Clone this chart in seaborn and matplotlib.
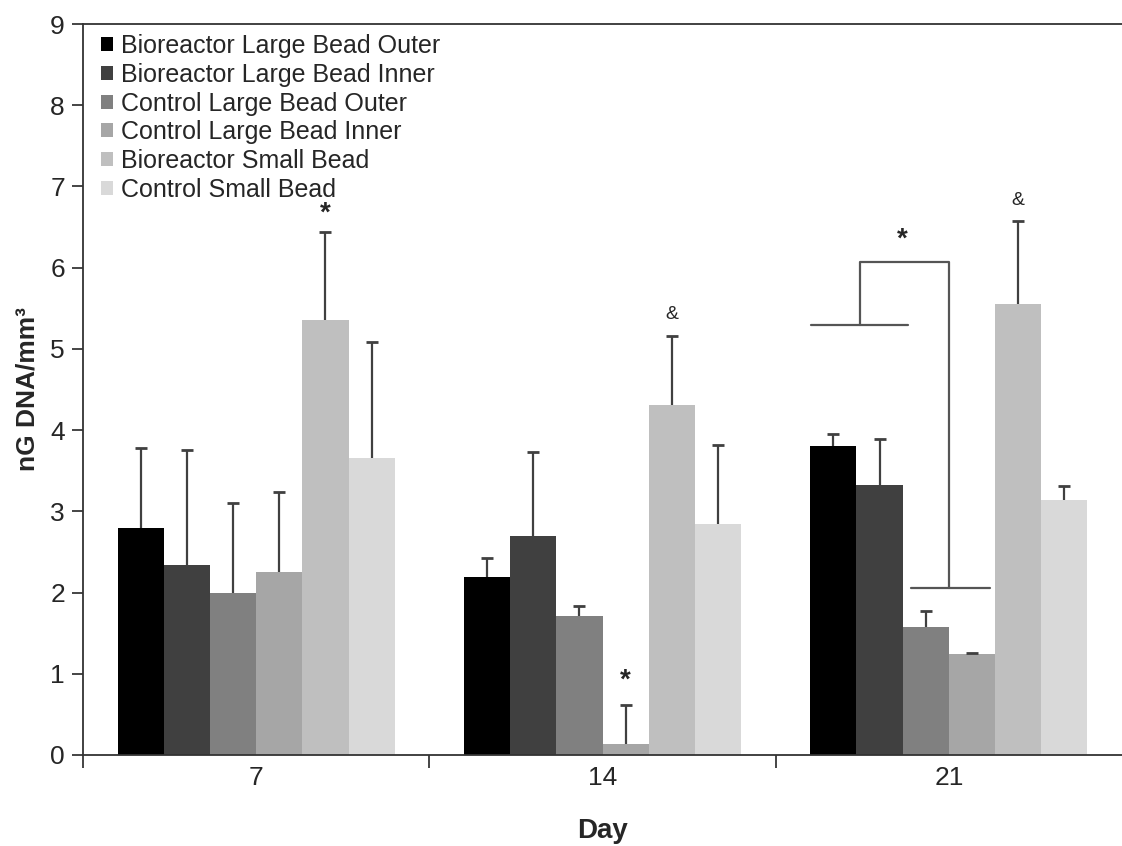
import numpy as np
import pandas as pd
import matplotlib
matplotlib.use("Agg")
import matplotlib.pyplot as plt
from matplotlib.patches import Patch
import seaborn as sns

days = ["7", "14", "21"]
groups = ["Bioreactor Large Bead Outer", "Bioreactor Large Bead Inner",
          "Control Large Bead Outer", "Control Large Bead Inner",
          "Bioreactor Small Bead", "Control Small Bead"]
colors = ["#000000", "#404040", "#808080", "#a6a6a6", "#bfbfbf", "#d9d9d9"]

# mean nG DNA/mm3, one list per group (days 7, 14, 21)
means = {
    "Bioreactor Large Bead Outer": [2.79, 2.19, 3.81],
    "Bioreactor Large Bead Inner": [2.34, 2.69, 3.32],
    "Control Large Bead Outer": [2.00, 1.71, 1.58],
    "Control Large Bead Inner": [2.25, 0.14, 1.24],
    "Bioreactor Small Bead": [5.36, 4.31, 5.55],
    "Control Small Bead": [3.66, 2.84, 3.14],
}
# standard deviations (upper bars only)
sds = {
    "Bioreactor Large Bead Outer": [0.99, 0.23, 0.14],
    "Bioreactor Large Bead Inner": [1.42, 1.04, 0.57],
    "Control Large Bead Outer": [1.10, 0.13, 0.19],
    "Control Large Bead Inner": [0.99, 0.47, 0.02],
    "Bioreactor Small Bead": [1.08, 0.85, 1.02],
    "Control Small Bead": [1.43, 0.98, 0.17],
}

rows = []
for g in groups:
    for d, m, s in zip(days, means[g], sds[g]):
        rows.append({"Day": d, "Group": g, "DNA": m, "SD": s})
df = pd.DataFrame(rows)

sns.set_style("ticks")
plt.rcParams["font.family"] = ["Liberation Sans", "DejaVu Sans"]

fig = plt.figure(figsize=(11.22, 8.46), dpi=100)
ax = fig.add_axes([0.074, 0.1076, 0.926, 0.864])

sns.barplot(data=df, x="Day", y="DNA", hue="Group", order=days,
            hue_order=groups, palette=colors, errorbar=None, width=0.8,
            saturation=1, linewidth=0, legend=False, ax=ax)

# upper error bars from the bar positions (lower cap hidden)
for cont, g in zip(ax.containers, groups):
    xs = [p.get_x() + p.get_width() / 2 for p in cont.patches]
    ys = [p.get_height() for p in cont.patches]
    err = sds[g]
    eb = ax.errorbar(xs, ys, yerr=[np.zeros(len(err)), err], fmt="none",
                     ecolor="#404040", elinewidth=1.6, capsize=4, capthick=2)
    eb[1][0].set_visible(False)

ax.set_ylim(0, 9)
ax.set_xlim(-0.5, 2.5)
ax.set_yticks(range(10))
ax.tick_params(axis="y", labelsize=19, length=8, width=1.2, direction="out", pad=5)
ax.tick_params(axis="x", which="major", length=0, labelsize=19, pad=8)
ax.set_xticks([-0.5, 0.5, 1.5], minor=True)
ax.tick_params(axis="x", which="minor", length=9, width=1.2, direction="out")
for s in ["left", "bottom", "top"]:
    ax.spines[s].set_linewidth(1.3)
    ax.spines[s].set_color("#333333")
ax.spines["right"].set_visible(False)

ax.set_xlabel("Day", fontsize=20, fontweight="bold", labelpad=20)
ax.set_ylabel("nG DNA/mm³", fontsize=19, fontweight="bold", labelpad=8)

# significance markers
def cx(day, gi):
    p = ax.containers[gi].patches[day]
    return p.get_x() + p.get_width() / 2

ax.text(cx(0, 4), 6.5, "*", ha="center", va="bottom", fontsize=20, fontweight="bold")
ax.text(cx(1, 3), 0.76, "*", ha="center", va="bottom", fontsize=20, fontweight="bold")
ax.text(cx(1, 4), 5.32, "&", ha="center", va="bottom", fontsize=14)
ax.text(cx(2, 4), 6.72, "&", ha="center", va="bottom", fontsize=14)

# bracket on day 21 (bioreactor large bead vs control large bead)
lc = "#555555"
left_mid = (cx(2, 0) + cx(2, 1)) / 2
right_mid = (cx(2, 2) + cx(2, 3)) / 2
ax.plot([left_mid - 0.13, left_mid + 0.15], [5.3, 5.3], color=lc, lw=1.6)
ax.plot([left_mid + 0.01, left_mid + 0.01, right_mid, right_mid],
        [5.3, 6.07, 6.07, 2.05], color=lc, lw=1.6)
ax.plot([right_mid - 0.11, right_mid + 0.12], [2.05, 2.05], color=lc, lw=1.6)
ax.text((left_mid + right_mid) / 2, 6.18, "*", ha="center", va="bottom",
        fontsize=20, fontweight="bold")

handles = [Patch(facecolor=c, edgecolor="none", label=g) for c, g in zip(colors, groups)]
ax.legend(handles=handles, loc="upper left", frameon=False, fontsize=18,
          handlelength=0.48, handleheight=0.48, handletextpad=0.3,
          labelspacing=0.19, borderaxespad=0.0, bbox_to_anchor=(0.008, 1.0))

fig.savefig("out.png", dpi=100)
